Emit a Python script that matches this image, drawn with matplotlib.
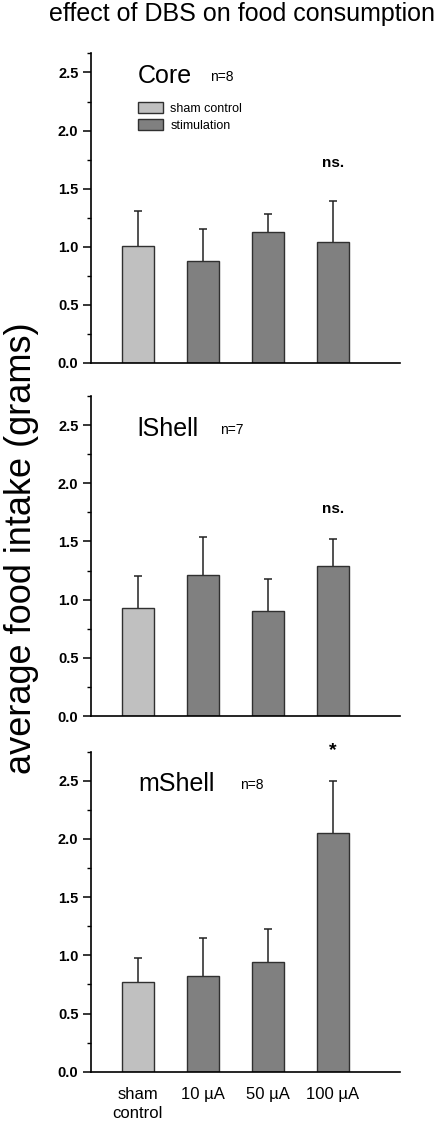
import matplotlib
matplotlib.use("Agg")
import matplotlib.pyplot as plt
from matplotlib.ticker import FixedLocator
from matplotlib.patches import Patch
import numpy as np

plt.rcParams['font.family'] = ['Liberation Sans', 'DejaVu Sans']

categories = ["sham\ncontrol", "10 \u00b5A", "50 \u00b5A", "100 \u00b5A"]
panel_names = ["Core", "lShell", "mShell"]
panel_n = ["n=8", "n=7", "n=8"]
core_means = [1.01, 0.88, 1.13, 1.04]
core_err = [0.30, 0.27, 0.15, 0.35]
lshell_means = [0.93, 1.21, 0.90, 1.29]
lshell_err = [0.27, 0.33, 0.28, 0.23]
mshell_means = [0.77, 0.82, 0.94, 2.05]
mshell_err = [0.21, 0.33, 0.29, 0.45]
annotations = ["ns.", "ns.", "*"]

means_all = [core_means, lshell_means, mshell_means]
err_all = [core_err, lshell_err, mshell_err]

W, H = 439, 1124
fig = plt.figure(figsize=(W / 100, H / 100), dpi=100)

def fy(py):
    return 1 - py / H

left = 91 / W
width = (400 - 91) / W
panel_px = [(52.7, 363.0), (396.0, 716.0), (751.7, 1071.7)]
ytops = [2.67, 2.75, 2.75]
name_n_x = [2.11, 2.26, 2.57]
annot_y = [1.72, 1.78, 2.72]

light = '#c0c0c0'
dark = '#808080'
x = np.arange(1, 5)

for i in range(3):
    top_px, bot_px = panel_px[i]
    ax = fig.add_axes([left, fy(bot_px), width, (bot_px - top_px) / H])
    colors = [light, dark, dark, dark]
    ax.bar(x, means_all[i], width=0.5, color=colors, edgecolor='#303030',
           linewidth=1.0, zorder=2)
    eb = ax.errorbar(x, means_all[i], yerr=[np.zeros(4), err_all[i]], fmt='none',
                     ecolor='#222222', elinewidth=1.1, capsize=3, capthick=1.1,
                     zorder=1)
    for cl in eb[1]:
        if np.allclose(cl.get_ydata(), means_all[i]):
            cl.set_visible(False)
    ax.set_xlim(0.28, 5.03)
    ax.set_ylim(0, ytops[i])
    for s in ['top', 'right']:
        ax.spines[s].set_visible(False)
    ax.spines['left'].set_linewidth(1.2)
    ax.spines['bottom'].set_linewidth(1.2)
    ax.yaxis.set_major_locator(FixedLocator([0, 0.5, 1.0, 1.5, 2.0, 2.5]))
    minors = [0.25, 0.75, 1.25, 1.75, 2.25, ytops[i]]
    ax.yaxis.set_minor_locator(FixedLocator(minors))
    ax.yaxis.set_major_formatter(plt.FuncFormatter(lambda v, p: f"{v:.1f}"))
    ax.tick_params(axis='y', which='major', length=6, width=1.1, labelsize=10.5,
                   pad=3)
    ax.tick_params(axis='y', which='minor', length=3, width=1.0)
    for lab in ax.get_yticklabels():
        lab.set_fontweight('bold')
    ax.set_xticks(x)
    if i == 2:
        ax.set_xticklabels(categories, fontsize=12, linespacing=1.35)
        ax.tick_params(axis='x', length=0, pad=11)
    else:
        ax.set_xticklabels([])
        ax.tick_params(axis='x', length=0)
    ax.text(1.0, 2.47, panel_names[i], fontsize=18, va='center', ha='left')
    ax.text(name_n_x[i], 2.46, panel_n[i], fontsize=10, va='center', ha='left')
    if annotations[i] == '*':
        ax.text(4, annot_y[i], annotations[i], fontsize=14, fontweight='bold',
                ha='center', va='baseline', clip_on=False)
    else:
        ax.text(4, annot_y[i], annotations[i], fontsize=11, fontweight='bold',
                ha='center', va='center')
    if i == 0:
        handles = [Patch(facecolor=light, edgecolor='#303030', linewidth=1.0),
                   Patch(facecolor=dark, edgecolor='#303030', linewidth=1.0)]
        ax.legend(handles, ["sham control", "stimulation"], loc='upper left',
                  bbox_to_anchor=(0.152, 0.84), frameon=False, fontsize=9,
                  borderpad=0, handlelength=2.0, handleheight=0.9,
                  handletextpad=0.6, labelspacing=0.35, borderaxespad=0)

fig.text(0.552, fy(14), "effect of DBS on food consumption", fontsize=18,
         ha='center', va='center')
fig.text(22 / W, fy(548), "average food intake (grams)", fontsize=26,
         rotation=90, ha='center', va='center')

fig.savefig("out.png", dpi=100)
